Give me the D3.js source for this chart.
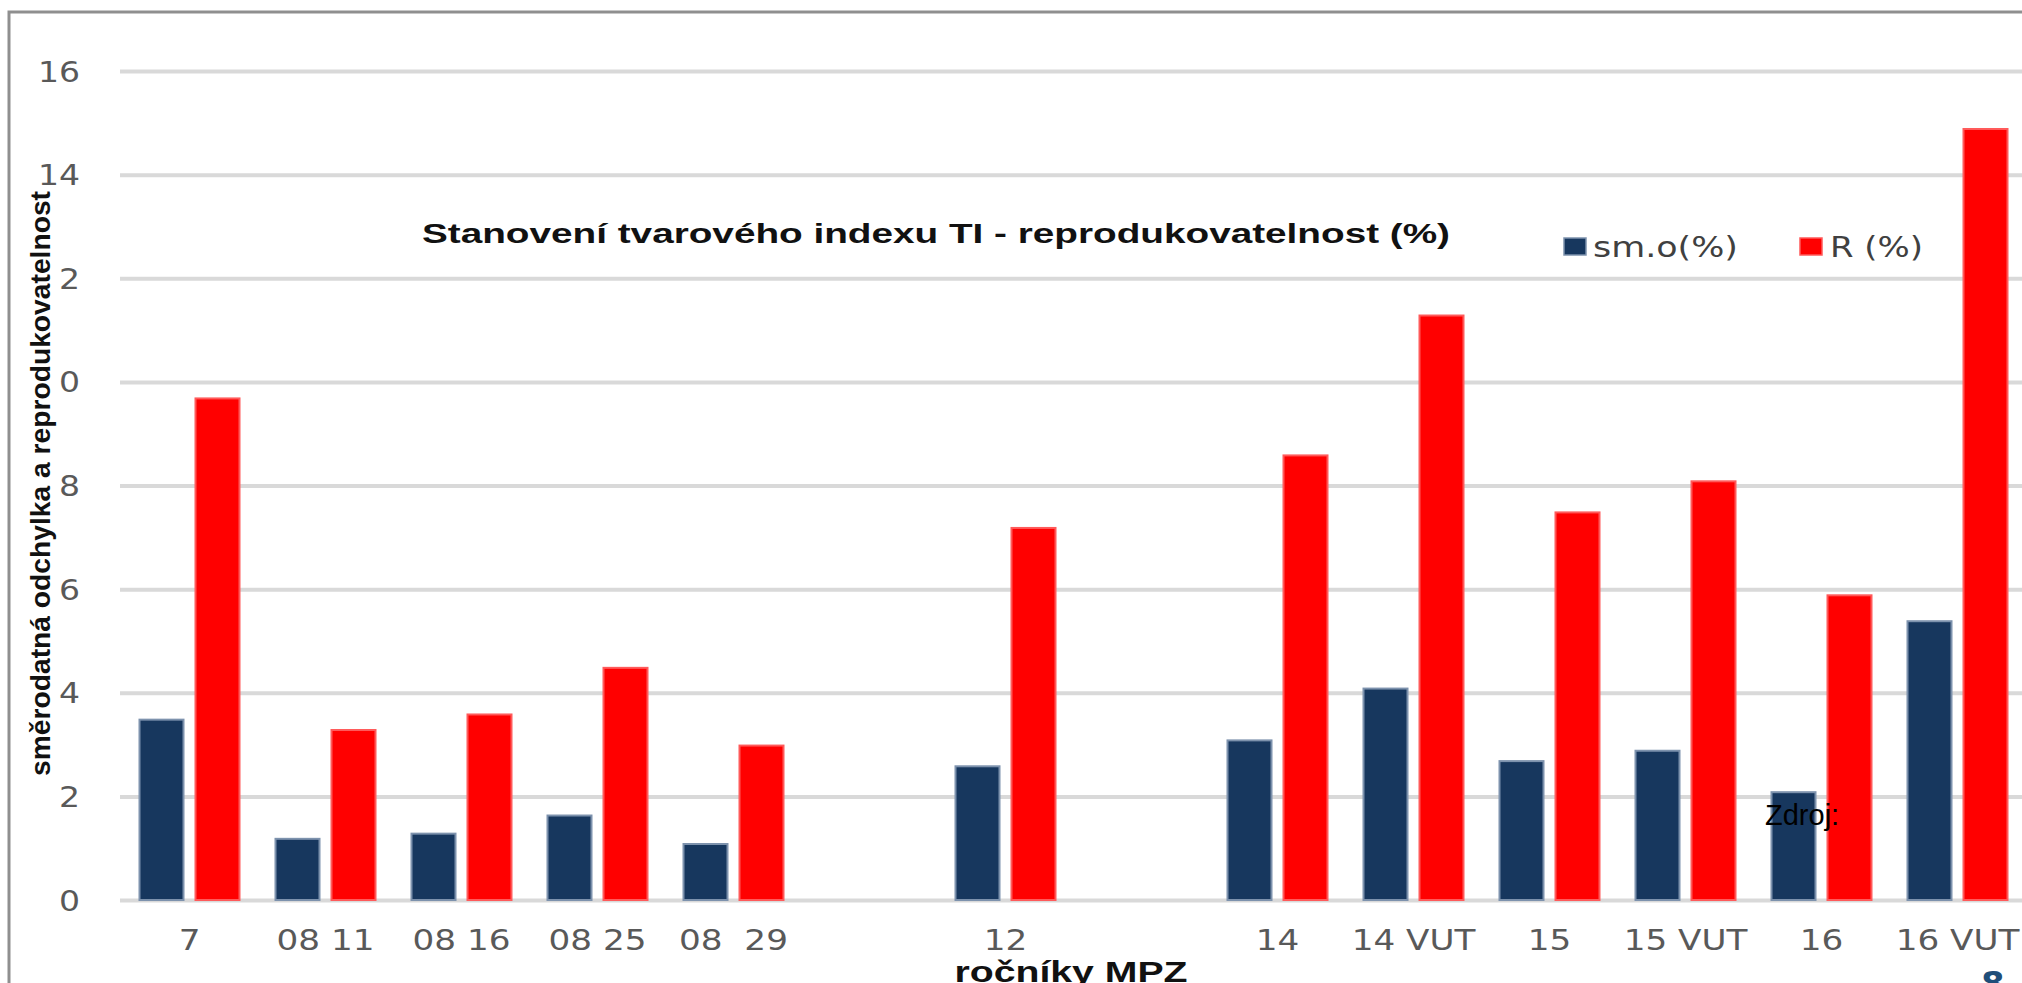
<!DOCTYPE html>
<html>
<head>
<meta charset="utf-8">
<script src="https://cdn.jsdelivr.net/npm/d3@7"></script>
<style>
  html, body { margin: 0; padding: 0; background: #fff; overflow: hidden; }
  svg { display: block; }
</style>
</head>
<body>
<svg id="chart" width="2022" height="983"></svg>
<script>
// Year groups of the MPZ rounds (empty entries leave a gap on the axis)
const categories = ["7", "08 11", "08 16", "08 25", "08  29", "", "12", "", "14", "14 VUT", "15", "15 VUT", "16", "16 VUT"];
// standard deviation (%)
const smO = [3.5, 1.2, 1.3, 1.65, 1.1, null, 2.6, null, 3.1, 4.1, 2.7, 2.9, 2.1, 5.4];
// reproducibility R (%)
const rPct = [9.7, 3.3, 3.6, 4.5, 3.0, null, 7.2, null, 8.6, 11.3, 7.5, 8.1, 5.9, 14.9];
const seriesNames = ["sm.o(%)", "R (%)"];
const seriesColors = ["#17375e", "#ff0000"];
const seriesEdges = ["#7d92ad", "#ff5a5a"];
const yTicks = [0, 2, 4, 6, 8, 10, 12, 14, 16];

const W = 2022, H = 983;
const svg = d3.select("#chart");

svg.append("rect").attr("width", W).attr("height", H).attr("fill", "#fff");

// outer frame of the chart object
svg.append("rect")
  .attr("x", 9).attr("y", 12)
  .attr("width", 3000).attr("height", 2000)
  .attr("fill", "none")
  .attr("stroke", "#8f8f8f")
  .attr("stroke-width", 3);

const x = d3.scaleBand()
  .domain(d3.range(categories.length))
  .range([121.5, 2025.5])
  .paddingInner(0).paddingOuter(0);

const xs = d3.scaleBand()
  .domain([0, 1])
  .range([17, 119])
  .paddingInner(10 / 56);

const y = d3.scaleLinear().domain([0, 16]).range([900, 71]);

const STRETCH = 1.18;

// value axis with horizontal gridlines
const yAxis = svg.append("g")
  .attr("transform", "translate(120,0)")
  .call(d3.axisLeft(y).tickValues(yTicks).tickSize(-(W - 120)).tickPadding(40).tickFormat(d3.format("d")));
yAxis.select(".domain").remove();
yAxis.selectAll(".tick line")
  .attr("stroke", "#d9d9d9")
  .attr("stroke-width", 4);
yAxis.selectAll(".tick text")
  .attr("x", -40 / STRETCH)
  .attr("dy", "0.36em")
  .attr("transform", `scale(${STRETCH},1)`)
  .attr("text-anchor", "end")
  .style("font-family", "'DejaVu Sans', Verdana, sans-serif")
  .style("font-size", "28px")
  .attr("fill", "#595959");

// bars
const series = [smO, rPct];
const groups = svg.append("g").selectAll("g")
  .data(d3.range(categories.length))
  .join("g")
  .attr("transform", i => `translate(${x(i)},0)`);

groups.selectAll("rect")
  .data(i => series.map((s, k) => ({ k, v: s[i] })).filter(d => d.v != null))
  .join("rect")
  .attr("x", d => xs(d.k) + 1)
  .attr("width", xs.bandwidth() - 2)
  .attr("y", d => y(d.v) + 1)
  .attr("height", d => y(0) - y(d.v) - 1)
  .attr("fill", d => seriesColors[d.k])
  .attr("stroke", d => seriesEdges[d.k])
  .attr("stroke-width", 2);

// category axis
const xAxis = svg.append("g")
  .attr("transform", "translate(0,900)")
  .call(d3.axisBottom(x).tickSize(0).tickFormat(i => categories[i]));
xAxis.select(".domain").remove();
xAxis.selectAll(".tick text")
  .attr("y", 50)
  .attr("dy", 0)
  .attr("transform", `scale(${STRETCH},1)`)
  .style("white-space", "pre")
  .style("font-family", "'DejaVu Sans', Verdana, sans-serif")
  .style("font-size", "29px")
  .attr("fill", "#595959");

// chart title
svg.append("text")
  .attr("x", 422).attr("y", 243)
  .attr("textLength", 1028)
  .attr("lengthAdjust", "spacingAndGlyphs")
  .style("font-family", "'Liberation Sans Narrow', 'Liberation Sans', Arial, sans-serif")
  .style("font-weight", "bold")
  .style("font-size", "28px")
  .attr("fill", "#111")
  .text("Stanovení tvarového indexu TI - reprodukovatelnost (%)");

// legend
const legend = [
  { x: 1564, tx: 1593, len: 145 },
  { x: 1800, tx: 1830, len: 93 }
];
legend.forEach((p, k) => {
  svg.append("rect")
    .attr("x", p.x).attr("y", 238)
    .attr("width", 22).attr("height", 17)
    .attr("fill", seriesColors[k])
    .attr("stroke", seriesEdges[k])
    .attr("stroke-width", 1.5);
  svg.append("text")
    .attr("x", p.tx).attr("y", 257)
    .attr("textLength", p.len)
    .attr("lengthAdjust", "spacingAndGlyphs")
    .style("font-family", "'DejaVu Sans', Verdana, sans-serif")
    .style("font-size", "29px")
    .attr("fill", "#404040")
    .text(seriesNames[k]);
});

// value axis title on a white backing
svg.append("rect")
  .attr("x", 24).attr("y", 186)
  .attr("width", 35).attr("height", 596)
  .attr("fill", "#fff");
svg.append("text")
  .attr("transform", "translate(50,483.5) rotate(-90)")
  .attr("text-anchor", "middle")
  .attr("textLength", 585)
  .attr("lengthAdjust", "spacingAndGlyphs")
  .style("font-family", "'Liberation Sans Narrow', 'Liberation Sans', Arial, sans-serif")
  .style("font-weight", "bold")
  .style("font-size", "27px")
  .attr("fill", "#111")
  .text("směrodatná odchylka a reprodukovatelnost");

// category axis title
svg.append("text")
  .attr("x", 1071).attr("y", 982)
  .attr("text-anchor", "middle")
  .attr("textLength", 233)
  .attr("lengthAdjust", "spacingAndGlyphs")
  .style("font-family", "'Liberation Sans Narrow', 'Liberation Sans', Arial, sans-serif")
  .style("font-weight", "bold")
  .style("font-size", "30px")
  .attr("fill", "#111")
  .text("ročníky MPZ");

// source note
svg.append("text")
  .attr("x", 1765).attr("y", 825)
  .style("font-family", "'Liberation Sans', Arial, sans-serif")
  .style("font-size", "29px")
  .attr("fill", "#000")
  .text("Zdroj:");

// slide number
svg.append("text")
  .attr("x", 1981).attr("y", 996)
  .style("font-family", "'DejaVu Sans', Verdana, sans-serif")
  .style("font-weight", "bold")
  .style("font-size", "34px")
  .attr("fill", "#1f4e79")
  .text("8");
</script>
</body>
</html>
